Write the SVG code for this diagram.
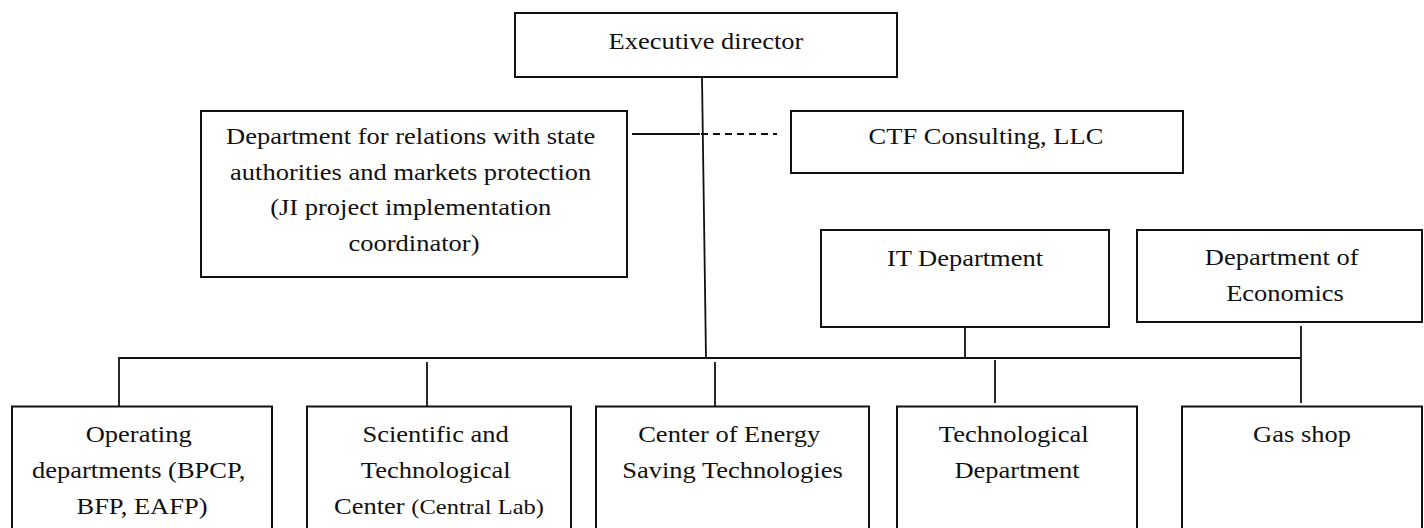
<svg xmlns="http://www.w3.org/2000/svg" width="1424" height="528" viewBox="0 0 1424 528">
<style>
.box{fill:#fff;stroke:#111;stroke-width:2}
.ln{fill:none;stroke:#111;stroke-width:1.8}
.dash{stroke-dasharray:7 5}
.t{font-family:"Liberation Serif","Times New Roman",serif;font-size:26.5px;fill:#111;text-anchor:middle}
</style>
<rect width="1424" height="528" fill="#fff"/>
<g id="connectors">
<path class="ln" d="M702,77 L706,358"/>
<path class="ln" d="M632,134 H700"/>
<path class="ln dash" d="M701,134 H777"/>
<path class="ln" d="M119,406 V358 H1301"/>
<path class="ln" d="M965,327 V358"/>
<path class="ln" d="M1301,326 V403"/>
<path class="ln" d="M427,362 V406"/>
<path class="ln" d="M715,362 V406"/>
<path class="ln" d="M995,360 V403"/>
</g>
<g id="exec">
<rect class="box" x="515" y="13" width="382" height="64"/>
<text class="t" transform="scale(1,0.87)" x="706" y="56.7">Executive director</text>
</g>
<g id="dept-relations">
<rect class="box" x="201" y="111" width="426" height="166"/>
<text class="t" transform="scale(1,0.87)">
<tspan x="414" y="165.5">Department for relations with state</tspan>
<tspan x="414" y="206.6">authorities and markets protection</tspan>
<tspan x="414" y="247.6">(JI project implementation</tspan>
<tspan x="414" y="288.5">coordinator)</tspan>
</text>
</g>
<g id="ctf">
<rect class="box" x="791" y="111" width="392" height="62"/>
<text class="t" transform="scale(1,0.87)" x="986" y="165.5">CTF Consulting, LLC</text>
</g>
<g id="it">
<rect class="box" x="821" y="230" width="288" height="97"/>
<text class="t" transform="scale(1,0.87)" x="965" y="305.7">IT Department</text>
</g>
<g id="economics">
<rect class="box" x="1137" y="230" width="285" height="92"/>
<text class="t" transform="scale(1,0.87)">
<tspan x="1285" y="304.6">Department of</tspan>
<tspan x="1285" y="346">Economics</tspan>
</text>
</g>
<g id="operating">
<rect class="box" x="12" y="406.5" width="260" height="140"/>
<text class="t" transform="scale(1,0.87)">
<tspan x="142" y="508">Operating</tspan>
<tspan x="142" y="549.4">departments (BPCP,</tspan>
<tspan x="142" y="590.8">BFP, EAFP)</tspan>
</text>
</g>
<g id="scientific">
<rect class="box" x="307" y="406.5" width="264" height="140"/>
<text class="t" transform="scale(1,0.87)">
<tspan x="439" y="508">Scientific and</tspan>
<tspan x="439" y="549.4">Technological</tspan>
<tspan x="439" y="590.8">Center <tspan style="font-size:24.5px">(Central Lab)</tspan></tspan>
</text>
</g>
<g id="energy">
<rect class="box" x="596" y="406.5" width="273" height="140"/>
<text class="t" transform="scale(1,0.87)">
<tspan x="732.5" y="508">Center of Energy</tspan>
<tspan x="732.5" y="549.4">Saving Technologies</tspan>
</text>
</g>
<g id="technological">
<rect class="box" x="897" y="406.5" width="240" height="140"/>
<text class="t" transform="scale(1,0.87)">
<tspan x="1017" y="508">Technological</tspan>
<tspan x="1017" y="549.4">Department</tspan>
</text>
</g>
<g id="gas">
<rect class="box" x="1182" y="406.5" width="240" height="140"/>
<text class="t" transform="scale(1,0.87)" x="1302" y="508">Gas shop</text>
</g>
</svg>
